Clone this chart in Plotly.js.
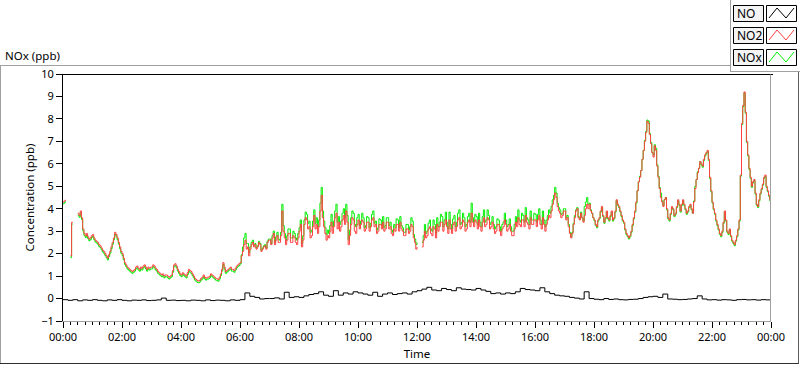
<!DOCTYPE html>
<html>
<head>
<meta charset="utf-8">
<script src="https://cdn.plot.ly/plotly-3.0.1.min.js"></script>
<style>
html,body{margin:0;padding:0;background:#ffffff;}
#chart{width:800px;height:365px;}
</style>
</head>
<body>
<div id="chart"></div>
<script>
// ---- data: NO2 / NOx every 2.5 minutes, NO every 10 minutes (ppb) ----
const stepFastSec = 150;
const stepSlowSec = 600;

const no2 = [
  4.3, 4.35, 4.4, null, null, null, 1.9, 3.4, 3.4, null, null, null, 3.8, 3.7, 3.9, 3.6, 3.1, 2.9, 2.8, 2.9, 2.75, 2.65, 2.7, 2.8,
  2.85, 2.7, 2.6, 2.55, 2.5, 2.4, 2.35, 2.25, 2.15, 2.1, 2.0, 1.9, 1.8, 1.95, 2.1, 2.3, 2.5, 2.7, 2.95, 2.85, 2.7, 2.5, 2.3, 2.1,
  2.0, 1.8, 1.6, 1.5, 1.4, 1.35, 1.3, 1.25, 1.2, 1.25, 1.3, 1.4, 1.45, 1.35, 1.3, 1.4, 1.35, 1.45, 1.5, 1.4, 1.3, 1.4, 1.35, 1.4,
  1.4, 1.5, 1.45, 1.35, 1.3, 1.2, 1.15, 1.1, 1.05, 1.1, 1.0, 1.05, 1.05, 1.0, 0.95, 1.0, 1.05, 1.25, 1.5, 1.55, 1.45, 1.3, 1.2, 1.1,
  1.05, 1.15, 1.1, 1.05, 1.0, 1.15, 1.3, 1.25, 1.2, 1.1, 1.0, 0.9, 0.85, 0.8, 0.78, 0.82, 0.9, 0.95, 1.05, 0.95, 0.9, 0.95, 0.95, 1.0,
  1.1, 1.05, 1.0, 0.95, 0.9, 0.88, 0.85, 0.95, 1.1, 1.3, 1.6, 1.4, 1.2, 1.25, 1.3, 1.35, 1.4, 1.3, 1.3, 1.25, 1.35, 1.45, 1.5, 1.55,
  1.6, 1.9, 2.1, 2.4, 2.6, 2.2, 2.3, 1.9, 2.2, 2.4, 2.5, 2.3, 2.4, 2.2, 2.3, 2.5, 2.4, 2.1, 2.2, 2.3, 2.35, 2.2, 2.5, 2.6,
  2.6, 2.4, 2.7, 2.9, 2.4, 2.6, 2.8, 2.5, 2.5, 2.8, 3.9, 3.0, 2.7, 2.4, 2.6, 2.9, 2.9, 2.5, 2.5, 2.8, 2.7, 2.5, 2.4, 2.7,
  3.0, 3.3, 2.3, 2.6, 3.3, 3.6, 3.5, 3.1, 3.2, 2.7, 2.8, 3.2, 3.7, 3.1, 3.3, 2.9, 3.2, 3.9, 4.6, 3.6, 3.2, 2.9, 2.6, 2.8,
  2.7, 3.0, 3.4, 2.9, 3.2, 3.6, 3.8, 3.1, 3.4, 3.0, 3.2, 3.5, 3.7, 3.3, 3.9, 3.4, 2.4, 2.8, 3.3, 3.6, 3.5, 3.0, 2.9, 3.3,
  3.5, 3.1, 3.3, 3.5, 3.4, 3.0, 3.1, 3.4, 3.4, 3.0, 3.2, 3.5, 3.6, 3.2, 3.3, 2.9, 3.0, 3.3, 3.3, 3.1, 3.4, 3.0, 3.1, 3.4,
  3.4, 3.1, 3.2, 2.9, 2.8, 3.1, 3.0, 3.3, 3.3, 3.0, 3.4, 3.1, 3.0, 2.8, 2.8, 3.1, 3.1, 2.9, 3.0, 3.3, 3.2, 2.7, 2.5, 2.2,
  2.3, null, null, null, 2.3, 2.6, 3.0, 2.7, 2.8, 3.1, 3.2, 2.9, 2.8, 3.2, 3.1, 2.7, 3.3, 3.0, 3.2, 3.4, 3.4, 3.0, 3.3, 3.5,
  3.2, 2.9, 3.5, 3.1, 2.9, 3.3, 3.4, 3.0, 3.2, 3.5, 3.6, 3.1, 3.2, 3.5, 3.4, 3.0, 3.1, 3.4, 3.5, 3.2, 3.8, 3.4, 3.2, 3.5,
  3.4, 3.1, 3.5, 3.2, 3.0, 3.4, 3.6, 3.2, 3.3, 3.6, 3.5, 3.1, 3.2, 3.4, 3.1, 2.9, 3.0, 3.3, 3.3, 3.0, 2.8, 3.1, 3.2, 3.5,
  3.3, 3.0, 3.1, 3.3, 3.0, 2.8, 2.8, 3.1, 3.4, 3.2, 3.6, 3.3, 3.2, 3.5, 3.5, 3.2, 3.7, 3.4, 3.3, 3.1, 3.6, 3.3, 3.3, 3.5,
  3.5, 3.2, 3.5, 3.7, 3.3, 3.1, 3.6, 3.3, 3.0, 3.3, 3.5, 3.7, 3.6, 3.9, 4.2, 4.4, 4.7, 4.5, 4.1, 3.9, 3.8, 3.6, 3.7, 3.9,
  3.9, 3.5, 3.6, 3.2, 2.9, 2.7, 2.9, 3.3, 3.6, 3.9, 4.0, 3.6, 3.5, 3.8, 3.6, 3.4, 3.7, 4.0, 4.2, 4.0, 4.2, 3.9, 3.8, 3.6,
  3.5, 3.3, 3.2, 3.5, 3.6, 3.9, 4.1, 3.7, 3.4, 3.6, 3.9, 3.6, 3.5, 3.7, 3.9, 3.5, 3.6, 3.9, 4.4, 4.2, 4.1, 3.9, 3.7, 3.5,
  3.4, 3.1, 2.9, 2.8, 2.7, 2.8, 3.0, 3.3, 3.6, 3.9, 4.3, 4.8, 5.2, 5.4, 5.7, 6.2, 6.6, 7.0, 7.4, 7.9, 7.8, 7.3, 6.9, 6.5,
  6.3, 6.8, 6.6, 5.9, 5.4, 4.9, 4.5, 4.3, 4.1, 4.4, 4.5, 4.0, 3.6, 3.5, 3.8, 4.1, 4.0, 3.7, 3.8, 4.1, 4.4, 4.2, 3.9, 4.2,
  4.4, 4.2, 4.0, 3.8, 3.9, 4.1, 4.2, 4.0, 3.8, 4.3, 4.9, 5.3, 5.6, 5.8, 6.1, 6.0, 5.9, 6.2, 6.4, 6.5, 6.6, 6.2, 5.4, 4.8,
  4.3, 4.0, 3.8, 3.5, 3.3, 3.1, 2.9, 2.8, 3.0, 3.4, 3.9, 3.5, 3.0, 2.9, 3.1, 2.8, 2.6, 2.5, 2.4, 2.6, 2.8, 3.1, 3.5, 5.5,
  7.8, 8.6, 9.2, 8.3, 7.0, 6.4, 5.8, 5.4, 5.0, 5.2, 5.3, 4.7, 4.2, 4.1, 4.4, 4.7, 4.9, 5.1, 5.4, 5.5, 5.0, 4.8, 4.6, 4.4,
  4.2
];

const nox = [
  4.22, 4.27, 4.32, null, null, null, 1.82, 3.32, 3.32, null, null, null, 3.72, 3.62, 3.82, 3.52, 3.02, 2.82, 2.72, 2.82, 2.67, 2.57, 2.62, 2.72,
  2.77, 2.62, 2.52, 2.47, 2.42, 2.32, 2.27, 2.17, 2.07, 2.02, 1.92, 1.82, 1.72, 1.87, 2.02, 2.22, 2.42, 2.62, 2.87, 2.77, 2.62, 2.42, 2.22, 2.02,
  1.92, 1.72, 1.52, 1.42, 1.32, 1.27, 1.22, 1.17, 1.12, 1.17, 1.22, 1.32, 1.37, 1.27, 1.22, 1.32, 1.27, 1.37, 1.42, 1.32, 1.22, 1.32, 1.27, 1.32,
  1.32, 1.42, 1.37, 1.27, 1.22, 1.12, 1.07, 1.02, 0.97, 1.02, 0.92, 0.97, 0.97, 0.92, 0.87, 0.92, 0.97, 1.17, 1.42, 1.47, 1.37, 1.22, 1.12, 1.02,
  0.97, 1.07, 1.02, 0.97, 0.92, 1.07, 1.22, 1.17, 1.12, 1.02, 0.92, 0.82, 0.77, 0.72, 0.7, 0.74, 0.82, 0.87, 0.97, 0.87, 0.82, 0.87, 0.87, 0.92,
  1.02, 0.97, 0.92, 0.87, 0.82, 0.8, 0.77, 0.87, 1.02, 1.22, 1.52, 1.32, 1.12, 1.17, 1.22, 1.27, 1.32, 1.22, 1.22, 1.17, 1.27, 1.37, 1.42, 1.47,
  1.55, 1.95, 2.3, 2.7, 2.9, 2.45, 2.45, 2.05, 2.3, 2.5, 2.6, 2.4, 2.45, 2.25, 2.35, 2.55, 2.45, 2.15, 2.25, 2.35, 2.4, 2.25, 2.55, 2.65,
  2.65, 2.45, 2.8, 3.0, 2.5, 2.75, 2.95, 2.65, 2.6, 2.95, 4.2, 3.25, 2.9, 2.6, 2.8, 3.1, 3.1, 2.7, 2.7, 3.0, 2.9, 2.7, 2.6, 2.9,
  3.15, 3.5, 2.45, 2.8, 3.5, 3.85, 3.75, 3.35, 3.45, 2.95, 3.05, 3.45, 3.95, 3.35, 3.6, 3.2, 3.5, 4.25, 4.95, 3.9, 3.45, 3.15, 2.85, 3.05,
  2.9, 3.25, 3.75, 3.2, 3.45, 3.9, 4.2, 3.4, 3.65, 3.3, 3.45, 3.8, 4.0, 3.6, 4.2, 3.7, 2.6, 3.05, 3.6, 3.9, 3.8, 3.3, 3.2, 3.6,
  3.75, 3.25, 3.45, 3.8, 3.6, 3.15, 3.25, 3.65, 3.6, 3.15, 3.35, 3.75, 3.9, 3.35, 3.45, 3.05, 3.15, 3.55, 3.5, 3.25, 3.65, 3.15, 3.25, 3.6,
  3.6, 3.25, 3.4, 3.05, 2.95, 3.3, 3.15, 3.55, 3.5, 3.15, 3.65, 3.25, 3.15, 2.95, 2.95, 3.3, 3.3, 3.05, 3.2, 3.6, 3.45, 2.85, 2.65, 2.4,
  2.5, null, null, null, 2.5, 2.8, 3.3, 2.9, 3.0, 3.35, 3.5, 3.1, 3.0, 3.5, 3.3, 2.9, 3.6, 3.2, 3.4, 3.75, 3.65, 3.2, 3.5, 3.85,
  3.4, 3.1, 3.85, 3.3, 3.1, 3.55, 3.7, 3.2, 3.4, 3.8, 3.95, 3.3, 3.4, 3.8, 3.6, 3.2, 3.3, 3.65, 3.8, 3.4, 4.25, 3.6, 3.4, 3.75,
  3.65, 3.3, 3.8, 3.4, 3.2, 3.65, 3.95, 3.4, 3.5, 3.95, 3.7, 3.3, 3.4, 3.65, 3.3, 3.1, 3.2, 3.55, 3.5, 3.2, 3.0, 3.3, 3.4, 3.8,
  3.5, 3.2, 3.3, 3.55, 3.2, 3.0, 3.0, 3.3, 3.65, 3.4, 3.95, 3.5, 3.4, 3.8, 3.7, 3.4, 4.05, 3.6, 3.5, 3.3, 3.9, 3.5, 3.5, 3.8,
  3.75, 3.4, 3.75, 4.0, 3.5, 3.3, 3.9, 3.5, 3.2, 3.5, 3.7, 3.95, 3.8, 4.1, 4.4, 4.6, 4.95, 4.7, 4.25, 4.05, 3.95, 3.75, 3.8, 4.0,
  4.0, 3.6, 3.7, 3.3, 2.95, 2.75, 2.95, 3.35, 3.7, 3.95, 4.05, 3.65, 3.55, 3.85, 3.6, 3.45, 4.1, 4.3, 4.5, 4.2, 4.25, 3.95, 3.8, 3.6,
  3.45, 3.25, 3.15, 3.45, 3.55, 3.85, 4.05, 3.65, 3.35, 3.55, 3.85, 3.55, 3.45, 3.65, 3.85, 3.45, 3.55, 3.85, 4.35, 4.15, 4.05, 3.85, 3.65, 3.45,
  3.35, 3.05, 2.85, 2.75, 2.65, 2.75, 2.95, 3.25, 3.55, 3.85, 4.25, 4.8, 5.2, 5.45, 5.7, 6.2, 6.6, 7.05, 7.45, 7.95, 7.9, 7.35, 6.95, 6.5,
  6.4, 6.85, 6.7, 5.95, 5.45, 4.95, 4.7, 4.35, 4.15, 4.4, 4.5, 3.95, 3.55, 3.45, 3.75, 4.05, 3.95, 3.65, 3.75, 4.05, 4.35, 4.15, 3.85, 4.15,
  4.35, 4.15, 3.95, 3.75, 3.85, 4.05, 4.15, 3.95, 3.8, 4.35, 5.0, 5.3, 5.65, 5.8, 6.1, 5.95, 5.85, 6.15, 6.35, 6.45, 6.55, 6.15, 5.35, 4.75,
  4.25, 3.95, 3.75, 3.45, 3.25, 3.05, 2.85, 2.75, 2.95, 3.35, 3.85, 3.45, 2.95, 2.85, 3.05, 2.75, 2.55, 2.45, 2.35, 2.55, 2.75, 3.05, 3.45, 5.45,
  7.75, 8.55, 9.15, 8.25, 6.95, 6.35, 5.75, 5.35, 4.95, 5.15, 5.25, 4.65, 4.15, 4.05, 4.35, 4.65, 4.85, 5.05, 5.35, 5.45, 4.95, 4.75, 4.55, 4.35,
  4.15
];

const no = [
  -0.05, -0.08, -0.05, -0.1, -0.06, -0.08,
  -0.05, -0.08, -0.1, -0.06, -0.08, -0.05,
  -0.08, -0.1, -0.07, -0.08, -0.06, -0.09,
  -0.08, -0.06, 0.02, -0.08, -0.07, -0.09,
  -0.08, -0.1, -0.07, -0.08, -0.1, -0.06,
  -0.09, -0.07, -0.08, -0.1, -0.06, -0.08,
  -0.05, 0.25, 0.1, 0.05, -0.02, 0.0,
  0.0, 0.03, -0.02, 0.28, 0.05, 0.08,
  0.05, 0.12, 0.18, 0.22, 0.3, 0.15,
  0.1, 0.35, 0.15, 0.25, 0.2, 0.3,
  0.25, 0.2, 0.15, 0.28, 0.1, 0.2,
  0.25, 0.18, 0.22, 0.25, 0.2, 0.3,
  0.35, 0.42, 0.5, 0.38, 0.35, 0.45,
  0.4, 0.35, 0.48, 0.42, 0.4, 0.38,
  0.45, 0.38, 0.32, 0.22, 0.25, 0.2,
  0.25, 0.22, 0.3, 0.45, 0.4, 0.38,
  0.35, 0.48, 0.3, 0.22, 0.15, 0.12,
  0.1, 0.05, 0.02, -0.02, 0.3, 0.0,
  -0.03, -0.05, 0.0, -0.04, -0.02, -0.05,
  -0.06, -0.04, -0.03, 0.0, 0.05, 0.08,
  0.1, 0.05, 0.2, -0.02, -0.03, -0.05,
  -0.04, -0.02, 0.0, 0.12, -0.02, -0.06,
  -0.05, -0.07, -0.05, -0.06, -0.08, -0.05,
  -0.04, -0.06, -0.05, -0.07, -0.05, -0.06,
  -0.05
];

const yTickVals = [-1, 0, 1, 2, 3, 4, 5, 6, 7, 8, 9, 10];
const legendOrder = ["NO", "NO2", "NOx"];
const colors = {NO: "#000000", NO2: "#ff4040", NOx: "#00ee00"};

// ---- time stamps ----
function stamp(sec) {
  const h = Math.floor(sec / 3600), m = Math.floor((sec % 3600) / 60), s = sec % 60;
  const day = h >= 24 ? "2024-01-02" : "2024-01-01";
  const p = v => String(v).padStart(2, "0");
  return day + " " + p(h % 24) + ":" + p(m) + ":" + p(s);
}
const tFast = no2.map((_, i) => stamp(i * stepFastSec));
const tSlow = no.map((_, i) => stamp(i * stepSlowSec));

// ---- plot-area geometry helpers (pixel -> paper) ----
const W = 800, H = 365;
const L = 63, R = 771, T = 74, B = 321;
const px = x => (x - L) / (R - L);
const py = y => (B - y) / (B - T);

const font = "Noto Sans, Liberation Sans, Arial, sans-serif";

const traces = [
  {x: tFast, y: nox, name: "NOx", mode: "lines", line: {color: colors.NOx, width: 1, shape: "hv"}, connectgaps: false},
  {x: tFast, y: no2, name: "NO2", mode: "lines", line: {color: colors.NO2, width: 1, shape: "hv"}, connectgaps: false},
  {x: tSlow, y: no, name: "NO", mode: "lines", line: {color: colors.NO, width: 1, shape: "hv"}}
];

const shapes = [];
const annotations = [];
function line(x0, y0, x1, y1, color) {
  shapes.push({type: "line", xref: "paper", yref: "paper", x0: px(x0), y0: py(y0), x1: px(x1), y1: py(y1),
    line: {color: color, width: 1}, layer: "above"});
}
function rect(x0, y0, x1, y1, fill, color) {
  shapes.push({type: "rect", xref: "paper", yref: "paper", x0: px(x0), y0: py(y0), x1: px(x1), y1: py(y1),
    fillcolor: fill, line: {color: color, width: 1}, layer: "above"});
}

// outer frame
line(0, 65.5, 731, 65.5, "#a0a0a0");
line(0.5, 65.5, 0.5, 363.5, "#a0a0a0");
line(0, 363.5, 799, 363.5, "#303030");
line(798.5, 72, 798.5, 363.5, "#606060");
// plot-area top and right border
line(63, 74.5, 773, 74.5, "#000000");
line(770.5, 74.5, 770.5, 321.5, "#a0a0a0");

// legend frame
line(730.5, 0, 730.5, 72, "#a0a0a0");
line(730.5, 71.5, 800, 71.5, "#a0a0a0");

// legend rows
legendOrder.forEach((nm, i) => {
  const top = 5 + i * 22, bot = top + 16;
  rect(733.5, top + 0.5, 763.5, bot + 0.5, "#f4f4f4", "#000000");
  rect(766.5, top + 0.5, 796.5, bot + 0.5, "#ffffff", "#000000");
  const ys = [bot - 3, top + 3, bot - 3, top + 3];
  const xs = [769, 777, 786, 794];
  let d = "M " + px(xs[0]) + "," + py(ys[0]);
  for (let k = 1; k < 4; k++) d += " L " + px(xs[k]) + "," + py(ys[k]);
  shapes.push({type: "path", xref: "paper", yref: "paper", path: d, line: {color: colors[nm], width: 1}, layer: "above"});
  annotations.push({xref: "paper", yref: "paper", x: px(735), y: py((top + bot) / 2 + 0.5), xanchor: "left", yanchor: "middle",
    text: nm, showarrow: false, font: {family: font, size: 12, color: "#000"}});
});

annotations.push({xref: "paper", yref: "paper", x: px(3), y: py(56), xanchor: "left", yanchor: "middle",
  text: "NOx (ppb)", showarrow: false, font: {family: font, size: 11.5, color: "#000"}});

const layout = {
  width: W, height: H,
  margin: {l: L, r: W - R, t: T, b: H - B, pad: 0},
  paper_bgcolor: "#ffffff",
  plot_bgcolor: "#ffffff",
  showlegend: false,
  font: {family: font, size: 11, color: "#000"},
  xaxis: {
    type: "date",
    range: [stamp(0), stamp(24 * 3600)],
    tickformat: "%H:%M",
    dtick: 2 * 3600 * 1000,
    tick0: stamp(0),
    ticks: "outside", ticklen: 6, tickwidth: 1, tickcolor: "#000",
    minor: {dtick: 15 * 60 * 1000, ticks: "outside", ticklen: 3, tickwidth: 1, tickcolor: "#000", showgrid: false},
    showgrid: false, zeroline: false,
    showline: true, linecolor: "#a0a0a0", linewidth: 1,
    tickfont: {family: font, size: 11, color: "#000"},
    title: {text: "Time", font: {family: font, size: 11.5, color: "#000"}, standoff: 6},
    automargin: false
  },
  yaxis: {
    range: [-1, 10],
    tickvals: yTickVals,
    ticks: "outside", ticklen: 6, tickwidth: 1, tickcolor: "#000",
    showgrid: false, zeroline: false,
    showline: true, linecolor: "#000", linewidth: 1,
    tickfont: {family: font, size: 11, color: "#000"},
    title: {text: "Concentration (ppb)", font: {family: font, size: 11.5, color: "#000"}, standoff: 4},
    automargin: false
  },
  shapes: shapes,
  annotations: annotations
};

Plotly.newPlot("chart", traces, layout, {staticPlot: true, displayModeBar: false});
</script>
</body>
</html>
